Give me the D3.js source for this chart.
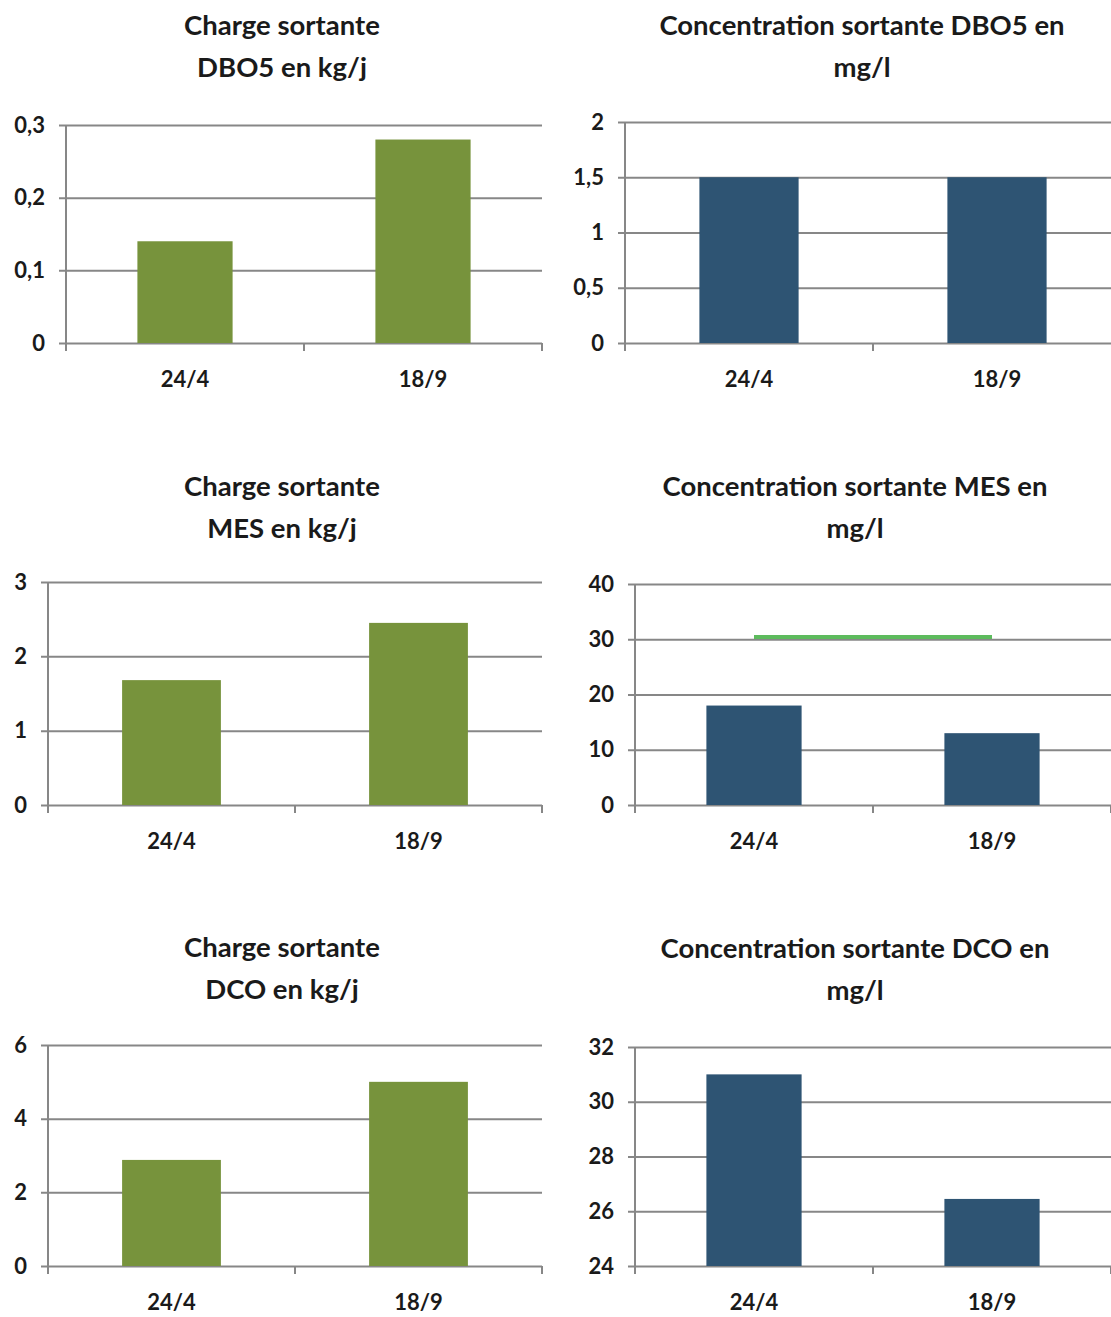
<!DOCTYPE html>
<html>
<head>
<meta charset="utf-8">
<script src="https://cdn.jsdelivr.net/npm/d3@7"></script>
<style>
  body { margin: 0; background: #fff; }
  svg text { font-family: Lato, "Open Sans", sans-serif; font-weight: bold; fill: #1a1a1a; }
</style>
</head>
<body>
<div id="chart"></div>
<script>
// data
const categories = ['24/4', '18/9'];
const chargeDbo5 = [0.14, 0.28];
const concDbo5 = [1.5, 1.5];
const chargeMes = [1.68, 2.45];
const concMes = [18, 13];
const concMesLimit = [30.4, 30.4];
const chargeDco = [2.88, 5.0];
const concDco = [31.0, 26.45];

const ticksChargeDbo5 = [0, 0.1, 0.2, 0.3];
const ticksConcDbo5 = [0, 0.5, 1, 1.5, 2];
const ticksChargeMes = [0, 1, 2, 3];
const ticksConcMes = [0, 10, 20, 30, 40];
const ticksChargeDco = [0, 2, 4, 6];
const ticksConcDco = [24, 26, 28, 30, 32];

const green = '#77933C';
const blue = '#2E5473';
const gridColor = '#878787';

const fr = d3.formatLocale({decimal: ',', thousands: ' ', grouping: [3], currency: ['', ' €']});
const fmt = fr.format('~g');

const svg = d3.select('#chart').append('svg')
    .attr('width', 1111)
    .attr('height', 1317);

// one entry per panel (layout only, values come from the arrays above)
const panels = [
    {title: ['Charge sortante', 'DBO5 en kg/j'], values: chargeDbo5, ticks: ticksChargeDbo5, color: green,
        x0: 66, x1: 542, top: 125, bottom: 343, titleX: 282, titleY: 35},
    {title: ['Concentration sortante DBO5 en', 'mg/l'], values: concDbo5, ticks: ticksConcDbo5, color: blue,
        x0: 625, x1: 1121, top: 122, bottom: 343, titleX: 862, titleY: 35},
    {title: ['Charge sortante', 'MES en kg/j'], values: chargeMes, ticks: ticksChargeMes, color: green,
        x0: 48, x1: 542, top: 582, bottom: 805, titleX: 282, titleY: 496},
    {title: ['Concentration sortante MES en', 'mg/l'], values: concMes, ticks: ticksConcMes, color: blue,
        x0: 635, x1: 1111, top: 584, bottom: 805, titleX: 855, titleY: 496, line: concMesLimit},
    {title: ['Charge sortante', 'DCO en kg/j'], values: chargeDco, ticks: ticksChargeDco, color: green,
        x0: 48, x1: 542, top: 1045, bottom: 1266, titleX: 282, titleY: 957},
    {title: ['Concentration sortante DCO en', 'mg/l'], values: concDco, ticks: ticksConcDco, color: blue,
        x0: 635, x1: 1111, top: 1047, bottom: 1266, titleX: 855, titleY: 958}
];

const drawPanel = (p) => {
    const g = svg.append('g');

    const xScale = d3.scaleBand().domain(categories).range([p.x0, p.x1]).padding(0);
    const yScale = d3.scaleLinear().domain(d3.extent(p.ticks)).range([p.bottom, p.top]);

    // title
    g.append('text')
        .attr('x', p.titleX)
        .attr('y', p.titleY)
        .attr('text-anchor', 'middle')
        .style('font-size', '27.5px')
        .selectAll('tspan')
        .data(p.title)
        .join('tspan')
        .attr('x', p.titleX)
        .attr('dy', (d, i) => i === 0 ? 0 : 42)
        .text(d => d);

    // gridlines + y labels
    const yAxis = d3.axisLeft(yScale)
        .tickValues(p.ticks)
        .tickSize(-(p.x1 - p.x0) - 7)
        .tickSizeOuter(0)
        .tickFormat(fmt);
    const ya = g.append('g')
        .attr('transform', `translate(${p.x0 - 7},0)`)
        .call(yAxis);
    ya.select('.domain').remove();
    ya.selectAll('.tick line')
        .attr('stroke', gridColor)
        .attr('stroke-width', 2);
    ya.selectAll('.tick text')
        .attr('x', -14)
        .style('font-size', '22px');

    // y axis line
    g.append('line')
        .attr('x1', p.x0).attr('x2', p.x0)
        .attr('y1', p.top).attr('y2', p.bottom + 8)
        .attr('stroke', gridColor)
        .attr('stroke-width', 2);

    // category boundary ticks
    g.selectAll('.xtick')
        .data(categories)
        .join('line')
        .attr('class', 'xtick')
        .attr('x1', d => xScale(d) + xScale.bandwidth())
        .attr('x2', d => xScale(d) + xScale.bandwidth())
        .attr('y1', p.bottom)
        .attr('y2', p.bottom + 8)
        .attr('stroke', gridColor)
        .attr('stroke-width', 2);

    // bars
    const barW = xScale.bandwidth() * 0.4;
    g.selectAll('.bar')
        .data(p.values)
        .join('rect')
        .attr('class', 'bar')
        .attr('x', (d, i) => xScale(categories[i]) + (xScale.bandwidth() - barW) / 2)
        .attr('y', d => yScale(d))
        .attr('width', barW)
        .attr('height', d => yScale(p.ticks[0]) - yScale(d))
        .attr('fill', p.color);

    // x labels
    g.selectAll('.xlabel')
        .data(categories)
        .join('text')
        .attr('class', 'xlabel')
        .attr('x', d => xScale(d) + xScale.bandwidth() / 2)
        .attr('y', p.bottom + 44)
        .attr('text-anchor', 'middle')
        .style('font-size', '22px')
        .text(d => d);

    // limit line
    if (p.line) {
        const lineGen = d3.line()
            .x((d, i) => xScale(categories[i]) + xScale.bandwidth() / 2)
            .y(d => yScale(d));
        g.append('path')
            .datum(p.line)
            .attr('d', lineGen)
            .attr('fill', 'none')
            .attr('stroke', '#5DBB5D')
            .attr('stroke-width', 4);
    }
};

panels.forEach(drawPanel);
</script>
</body>
</html>
